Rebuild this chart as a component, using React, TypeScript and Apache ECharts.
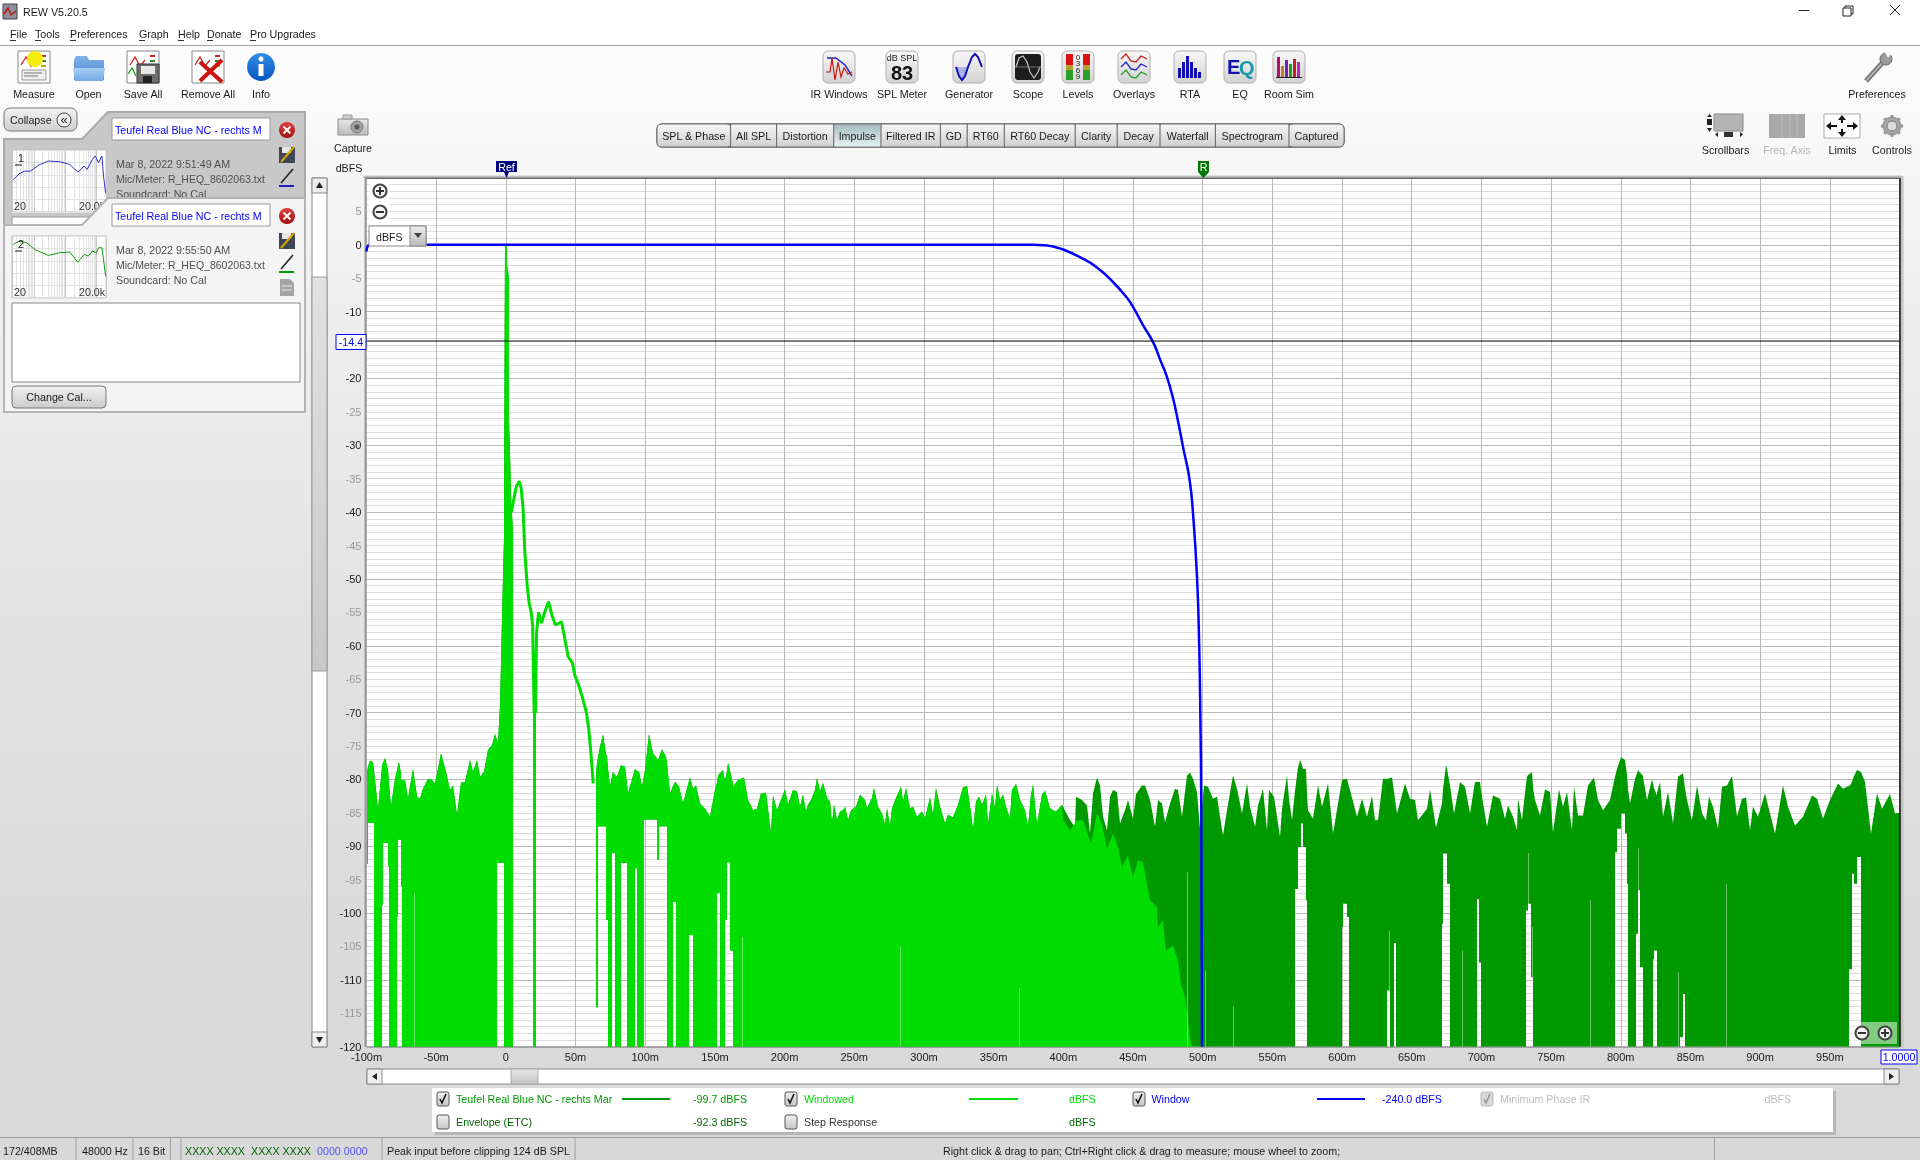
import React, { useEffect, useRef } from "react";
import * as echarts from "echarts";

// ---------- chart data (time in ms, level in dBFS) ----------
const xTicksMin = -100;
const xTicksMax = 1000;
const yMin = -120;
const yMax = 10;
const cursorLevel = -14.4;

const unwindowedTops: [number, number][] = [
  [-100,-78.9],[-97.6,-77.2],[-95.2,-77.4],[-91.6,-84.5],[-89.2,-78.1],[-86.8,-76.8],[-84.4,-78.6],[-82.1,-84.1],[-79.7,-79.9],[-76.6,-77.4],
  [-74.9,-80.1],[-72.5,-80.1],[-70.1,-82.9],[-66.5,-78.4],[-64.1,-82.6],[-61.7,-82.9],[-59.3,-81.4],[-55.7,-79.9],[-53.3,-80.1],[-51,-80.6],
  [-48.6,-78.4],[-46.2,-76.1],[-43.1,-78.9],[-40.2,-81.6],[-37.8,-80.9],[-35.4,-85.4],[-32.5,-80.5],[-29.4,-80.4],[-25.8,-77.1],[-23.4,-78.9],
  [-21,-77.1],[-18.7,-79.6],[-15.8,-78.9],[-12.7,-75.6],[-10.3,-74.9],[-7.7,-73.2],[-5.5,-74.6],[-4.3,-69],[-2,-49.6],[-1,-40],[-0.4,0],[0.9,0],
  [1,-3],[1.9,-5],[2,-23],[2.4,-26.4],[2.9,-30.9],[4,-37.6],[5.3,-43],[19.6,-61],[21.9,-61],[64.4,-79],
  [65.5,-77.6],[67.5,-75.1],[69.9,-73.3],[72.3,-76.6],[74.6,-81.1],[77,-78.9],[79.4,-79.6],[82.3,-77.9],[85.4,-78.1],[87.8,-82.1],[92.6,-78.4],
  [95.5,-78.9],[97.4,-81.1],[99.8,-78.6],[102.9,-73.2],[105.7,-76.1],[109.3,-77.1],[112.2,-75.5],[114.8,-76.6],[117.7,-82.1],[121.3,-80.4],
  [124.4,-81.1],[126.8,-83.6],[132,-79.7],[134.4,-81.4],[136.4,-80.9],[139,-83.6],[142.8,-84.4],[146.4,-85.6],[150,-81.6],[152.4,-79.4],[155.5,-78.6],
  [157,-80.4],[159.6,-77.5],[163.2,-81.1],[166.8,-80.1],[171,-79.7],[174,-83.1],[177.6,-84.6],[180.4,-84.4],[182.8,-82.1],[187,-82],[190,-88.1],
  [191.9,-82.4],[194.7,-84.6],[200.2,-81.5],[202.6,-83.8],[206.2,-81.6],[208.6,-81.8],[211,-84.1],[213.3,-82.3],[215.3,-84.8],[216.9,-83.8],[218.6,-83.1],
  [221.7,-81.6],[223.4,-79.8],[225.3,-81.8],[227.7,-80.5],[230.1,-82.8],[232.5,-83.3],[234.2,-86.6],[235.6,-83.8],[237.7,-86.1],[239.7,-84.8],[242,-84.6],
  [243.7,-84.1],[245.6,-86.1],[248,-84.6],[251.1,-84.1],[254,-82.3],[257.6,-83.1],[259.3,-84.3],[262.4,-82.8],[264.3,-81.3],[267.2,-84.1],[269.6,-85.1],
  [272,-86.8],[273.6,-84.3],[275.5,-87],[277.2,-84.3],[279.8,-82.8],[283.2,-81.1],[285.1,-83.3],[287,-81.3],[289.9,-84.3],[292.3,-84.1],[295.1,-85.6],
  [298.3,-84.8],[300.7,-85.8],[304.2,-82.7],[306.2,-85.3],[309,-81.3],[311.4,-84.1],[315,-86.6],[317.4,-85.3],[321,-85.7],[324.6,-83.8],[328.2,-81.2],
  [330.6,-81],[333.4,-85.1],[335.3,-87.6],[337.7,-83.3],[339.6,-82.6],[341.8,-83.8],[344.2,-82.3],[346.1,-86.8],[348.5,-82.1],[350.9,-84.3],[352.6,-80.8],
  [354.5,-83.1],[356.9,-82.3],[359.3,-84.6],[361.6,-85.8],[363.3,-81.6],[366,-80.7],[368.8,-83.1],[372.4,-84.6],[374.8,-87.1],[376.5,-82.3],[378.4,-80.8],
  [381.3,-86.8],[384.4,-82.3],[387.2,-81.7],[390.4,-84.3],[392.7,-84.6],[395.1,-84.8],[398.7,-83.8],[404.8,-86.1],[408.4,-87.1],[409.1,-82.6],[413.2,-83.1],
  [416.7,-83.9],[419.1,-88.1],[421.5,-82.1],[424.4,-79.7],[426.3,-80.9],[428.7,-85.6],[431.6,-87.6],[433.5,-82.6],[435.9,-81.6],[438.3,-81.9],[440.7,-86.6],
  [444.3,-84.6],[446.2,-83.1],[450.2,-85.9],[452.1,-82.2],[456.2,-80.9],[458.6,-80.9],[462.2,-83.1],[465.8,-87.1],[468.2,-83.1],[471,-83.6],[473,-86.4],
  [476.5,-83.6],[480.1,-81.4],[482.5,-81.6],[484.9,-85.6],[488.5,-79.4],[490.9,-79],[493.3,-79.9],[495.7,-81.9],[498.1,-87.4],[500.9,-80.9],[504,-81.1],
  [507.6,-82.9],[510,-82.6],[512.4,-85.6],[514.8,-88.4],[517.2,-84.6],[522,-79.4],[524.4,-81.4],[528,-85.1],[531.6,-80.6],[534,-84.1],[537.5,-87.1],
  [539.9,-83.9],[543.5,-81.4],[545.9,-87.6],[547.6,-81.6],[551.2,-82.6],[555.5,-88.6],[556.7,-84.4],[560.3,-79.4],[562.2,-82.9],[563.9,-86.1],[567.4,-79.4],
  [569.8,-77.1],[571.7,-78.4],[574.1,-78.5],[575.8,-84.6],[579.4,-85.9],[583,-80.9],[585.4,-84.1],[590.2,-80.6],[593.8,-88.1],[599.7,-80.1],[603.3,-79.9],
  [605.7,-81.6],[610.5,-85.6],[614.1,-82.9],[617.7,-85.6],[621.3,-82.5],[623.7,-86.1],[626,-86.1],[629.6,-79.9],[633.2,-79.9],[635.6,-79.7],[639.2,-85.1],
  [645.2,-80.6],[648.8,-82.9],[652.4,-83.1],[654.8,-86.1],[660.7,-84.4],[663.1,-81.5],[667.4,-87.2],[671.5,-83.6],[674.6,-77.9],[677.5,-80.9],[680.3,-85.1],
  [684.6,-80.4],[688.2,-81.1],[691.8,-85.1],[695.4,-80.4],[699,-80.4],[703.8,-87.1],[708.6,-82.4],[713.3,-82.9],[716.9,-85.9],[719.3,-83.9],[722.9,-85.6],
  [725.3,-87.6],[726.5,-82.9],[728.8,-86.1],[732.4,-79.6],[736,-78.9],[738.4,-83.1],[742,-85.4],[745.6,-81.5],[749.2,-81.9],[751.6,-87.9],[755.9,-81.5],
  [758.7,-84.1],[761.1,-81.9],[764.7,-87.6],[766.4,-81.1],[769.5,-85.4],[773.1,-85.4],[776.7,-80.9],[781,-79.7],[783.9,-83.1],[787.5,-84.6],[792.2,-83.1],
  [795.8,-79.6],[799.9,-76.7],[803,-77.1],[806.6,-83.6],[810.2,-79.9],[812.6,-78.6],[816.2,-79.6],[818.5,-83.1],[822.1,-80],[825.7,-82.4],[828.1,-80.4],
  [830.5,-85.6],[834.1,-81.9],[837.7,-86.6],[841.3,-79.6],[844.4,-79.1],[847.3,-83.1],[850.8,-86.1],[854.4,-80.9],[858,-85.1],[861.1,-86.1],[863.5,-82.6],
  [866.4,-84.1],[870,-87.4],[872.4,-81.1],[876,-80.9],[879.5,-79.5],[883.1,-85.6],[886.7,-82.9],[889.8,-82.7],[892.7,-87.6],[895.1,-84.1],[898.7,-85.6],
  [903.5,-82.1],[910.6,-88.1],[916.6,-80.9],[920.2,-84.1],[925,-86.9],[931,-85.6],[937,-82.4],[940.5,-82.9],[945.3,-85.9],[950.1,-83.1],[956.1,-80.6],
  [959.7,-81.4],[964.5,-80.9],[969.2,-78.6],[972.1,-78.9],[975.2,-80.4],[979.3,-88.1],[983.6,-82.1],[987.2,-84.4],[993.2,-82.2],[996.8,-85.1],[1000,-85],
];

const windowedTail: [number, number][] = [
  [400,-86.1],[404.8,-87.6],[409.6,-86.1],[414.4,-86.1],[419.6,-89.6],[423.9,-85.1],[427.5,-86.6],[431.6,-90.4],[435.9,-88.1],[439.5,-90.1],[441.9,-93.1],
  [446.6,-91.4],[450.2,-94.6],[453.8,-92.1],[457.4,-92.4],[462.2,-98.1],[467,-99.1],[468.2,-102.1],[471.8,-101.1],[473.4,-105.6],[478.9,-104.9],[482.5,-107.1],
  [484.2,-110.6],[487.3,-112.6],[489,-114.6],[490.9,-118.6],[492.1,-120],
];

// white gaps under the trace: [from ms, to ms, gap top dB]
const traceGaps: [number, number, number][] = [
  [-100,-98.8,-92.6],[-98.8,-94.6,-86.5],[-88.8,-88.2,-98.8],[-88.2,-84.4,-89.5],[-84.4,-83.5,-93],[-78.2,-77.2,-100.6],[-77.2,-75.5,-89],[-75.5,-74.4,-96],
  [-6.2,-1.4,-92.5],[5.3,19.6,0],[21.9,64.4,0],[64.4,66.2,-114.1],[66.2,72,-87],[72,73.2,-101],[76.3,78.5,-91],[82.3,87,-92.5],[93,94.4,-93.3],
  [99,108.5,-86],[108.5,110,-92],[110,115.3,-87],[120,121.8,-98.3],[131.3,134.4,-103.3],[151.2,153.6,-97],[157.2,158.4,-101],[158.4,160.8,-92.4],[160.8,162.7,-105.6],
  [566.2,568.6,-96.4],[568.6,570.3,-90.1],[570.3,572.2,-86.6],[572.2,573.9,-90.1],[573.9,575.1,-98.1],
  [599.7,601,-102.1],[601,603.3,-98.6],[603.3,605,-100.6],[632.5,634.4,-111.6],[637,638.5,-104.5],
  [671.5,672.7,-101.6],[672.7,675.1,-91.1],[675.1,677.5,-95.6],[697.1,698.5,-97.9],[698.5,699.9,-107.4],
  [731.8,733.7,-99.6],[733.7,735.3,-98.6],[735.3,737.3,-109.6],
  [795.8,797.5,-90.9],[797.5,799.9,-87.4],[799.9,803,-85.1],[803,804.2,-88.1],[804.2,805.4,-95.6],
  [810.9,812.6,-103.1],[812.6,814,-96.6],[814,815.7,-108.1],[822.9,824.1,-106.9],[824.1,826.2,-105.6],[842.7,844.4,-118.6],[844.4,846,-112.1],
  [964,965.7,-108.4],[965.7,967.4,-94.1],[967.4,969.3,-95.6],[969.3,972.1,-91.6],
];

// hairline pale gaps: [ms, gap top dB]
const paleGaps: [number, number][] = [
  [-65.9,-97],[169.5,-103.6],[283,-105],[368.3,-111.2],[488.5,-93.9],[501.7,-108.6],[521.5,-113.9],[633.5,-102.6],[686.3,-105.6],
  [733.4,-91],[736.5,-102],[777.9,-98.1],[812.6,-90.3],[840.8,-108.9],[875.5,-95.6],
];

// the narrow trace between the impulse and the noise floor
const decayTrace: [number, number][] = [
  [4,-40],[5.7,-38.1],[7.6,-36.1],[9.6,-35.4],[11,-36.4],[12.4,-39.6],[13.6,-46],[15.3,-51],[16.7,-53.6],[18.2,-55],[19.2,-57],[19.6,-61.6],[20.3,-70],
  [21.3,-70],[22,-58],[23.5,-55],[25.6,-56.6],[28,-54.9],[30.6,-53.4],[33.3,-55.6],[35.6,-56.9],[40,-56.4],[42.3,-59],[44.7,-61.6],[47.8,-62.6],[49.5,-64.4],
  [52.6,-66.1],[55.4,-68.1],[57.8,-70],[59.5,-72.5],[61,-76],[62.7,-80.6],
];

const windowCurve: [number, number][] = [
  [-100,-1],[-97.5,0],[378,0],[386,-0.05],[393,-0.3],[400,-0.7],[411.9,-1.85],[423.9,-3.35],[435.8,-5.6],[445.4,-7.85],[450.2,-9.35],[457.4,-12.1],[464.5,-14.6],
  [469.3,-17.1],[474.1,-19.6],[478.9,-23.1],[482.5,-26.6],[486,-30.35],[490.5,-35],[493,-40],[496,-50],[497.5,-60],[498.3,-70],[499,-85],[499.5,-120],
];

// thumbnails: [Hz, position in %]
const thumb1Curve: [number, number][] = [
  [22,52.4],[35,62.2],[50,65.9],[78,65.9],[143,75.7],[288,82.2],[652,81.1],[1390,76.8],[2540,64.3],[4020,74],[4970,68.6],[7360,84.9],[9100,90.3],[11600,79.5],[14800,90.3],[16700,57.8],[19400,30.8],
];
const thumb2Curve: [number, number][] = [
  [22,86.5],[35,91.9],[58,89.2],[106,78.4],[288,68.6],[652,73],[1390,74],[2540,57.8],[4020,70.3],[5430,67.6],[7360,75.7],[9960,73],[11600,81.1],[14800,81.1],[16700,62.2],[19400,35.1],
];

const menuItems = ["File","Tools","Preferences","Graph","Help","Donate","Pro Upgrades"];
const tabNames = ["SPL & Phase","All SPL","Distortion","Impulse","Filtered IR","GD","RT60","RT60 Decay","Clarity","Decay","Waterfall","Spectrogram","Captured"];
const measurementName = "Teufel Real Blue NC - rechts M";

// ---------- colours / layout ----------
const DARK = "#009900";
const LIGHT = "#00DD00";
const BLUE = "#0000FF";
const FONT = '"Liberation Sans"';
const GL = 366.5, GR = 1899.5, GT = 178, GB = 1046.7;

const gapEdges = traceGaps.flatMap((g) => [g[0], g[1]]);

function bandRenderer(tops: [number, number][], color: string) {
  return (params: any, api: any) => {
    const i = params.dataIndex;
    if (i >= tops.length - 1) return undefined;
    const [t0, v0] = tops[i];
    const [t1, v1] = tops[i + 1];
    const edges = [t0, ...gapEdges.filter((e) => e > t0 && e < t1).sort((a, b) => a - b), t1];
    const children: any[] = [];
    const at = (t: number) => v0 + ((v1 - v0) * (t - t0)) / (t1 - t0);
    for (let k = 0; k < edges.length - 1; k++) {
      const a = edges[k], b = edges[k + 1], mid = (a + b) / 2;
      const gap = traceGaps.find((g) => mid >= g[0] && mid < g[1]);
      const low = gap ? gap[2] : yMin;
      const xa = Math.round(api.coord([a, low])[0]);
      const xb = Math.round(api.coord([b, low])[0]);
      const yLow = api.coord([a, low])[1];
      const ya = Math.min(api.coord([a, at(a)])[1], yLow);
      const yb = Math.min(api.coord([b, at(b)])[1], yLow);
      if (xb <= xa || (ya >= yLow && yb >= yLow)) continue;
      children.push({ type: "polygon", shape: { points: [[xa, ya], [xb, yb], [xb, yLow], [xa, yLow]] }, style: { fill: color } });
    }
    return { type: "group", children };
  };
}

const paleRenderer = (_: any, api: any) => {
  const t = api.value(0), v = api.value(1);
  const x = Math.round(api.coord([t, v])[0]);
  const yTop = api.coord([t, v])[1], yBot = api.coord([t, yMin])[1];
  return { type: "rect", shape: { x, y: yTop, width: 1, height: yBot - yTop }, style: { fill: "rgba(255,255,255,0.4)" } };
};

// ---------- window chrome drawn with graphic elements ----------
function buildChrome() {
  const G: any[] = [];
  const grad = (stops: string[]) =>
    new echarts.graphic.LinearGradient(0, 0, 0, 1, stops.map((c, i) => ({ offset: i / (stops.length - 1), color: c })));
  const R = (x: number, y: number, w: number, h: number, fill: any, o: any = {}) =>
    G.push({ type: "rect", silent: true, z: o.z ?? 3, shape: { x, y, width: w, height: h, r: o.r ?? 0 }, style: { fill, stroke: o.stroke ?? null, lineWidth: o.lw ?? 1, opacity: o.op ?? 1 } });
  const T = (text: string, x: number, y: number, o: any = {}) =>
    G.push({ type: "text", silent: true, z: o.z ?? 3, x, y, style: { text, fill: o.fill ?? "#1a1a1a", font: `${o.weight ?? "normal"} ${o.size ?? 10.7}px ${o.family ?? FONT}`, align: o.align ?? "left", verticalAlign: "middle" } });
  const L = (x1: number, y1: number, x2: number, y2: number, stroke: string, o: any = {}) =>
    G.push({ type: "line", silent: true, z: o.z ?? 3, shape: { x1, y1, x2, y2 }, style: { stroke, lineWidth: o.lw ?? 1 } });
  const C = (cx: number, cy: number, r: number, fill: any, o: any = {}) =>
    G.push({ type: "circle", silent: true, z: o.z ?? 3, shape: { cx, cy, r }, style: { fill, stroke: o.stroke ?? null, lineWidth: o.lw ?? 1 } });
  const PL = (points: number[][], stroke: string, o: any = {}) =>
    G.push({ type: "polyline", silent: true, z: o.z ?? 3, shape: { points }, style: { stroke, lineWidth: o.lw ?? 1, fill: null } });
  const PG = (points: number[][], fill: any, o: any = {}) =>
    G.push({ type: "polygon", silent: true, z: o.z ?? 3, shape: { points }, style: { fill, stroke: o.stroke ?? null, lineWidth: o.lw ?? 1 } });

  // backgrounds
  R(0, 46, 1920, 1114, grad(["#fdfdfd", "#eeeeee", "#e3e3e3", "#dcdcdc", "#d8d8d8"]), { z: -10 });
  R(0, 0, 1920, 46, "#ffffff", { z: -9 });
  L(0, 45.5, 1920, 45.5, "#a5a5a5", { z: -8 });

  // title bar
  R(3, 4, 14, 15, "#8a8f98", { stroke: "#444" });
  PL([[4, 14], [8, 8], [11, 15], [16, 11]], "#c01010", { lw: 1.4 });
  T("REW V5.20.5", 23, 12);
  L(1799, 10.5, 1809, 10.5, "#222");
  R(1845, 6, 8, 8, "#fff", { stroke: "#222" });
  R(1843, 8, 8, 8, "#fff", { stroke: "#222" });
  L(1890, 5, 1900, 15, "#222");
  L(1900, 5, 1890, 15, "#222");

  // menu
  const menuX = [10, 35, 70, 139, 178, 207, 250];
  menuItems.forEach((m, i) => {
    T(m, menuX[i], 34);
    L(menuX[i], 40.5, menuX[i] + 6, 40.5, "#333");
  });

  // left toolbar
  const doc = (x: number, y: number) => {
    R(x, y, 32, 32, "#ffffff", { stroke: "#888" });
    PL([[x + 3, y + 14], [x + 8, y + 6], [x + 13, y + 15], [x + 18, y + 9]], "#d02020", { lw: 1.3 });
    R(x + 23, y + 4, 5, 2, "#d02020");
    R(x + 23, y + 9, 5, 2, "#2a8a2a");
    R(x + 23, y + 14, 5, 2, "#c0a000");
  };
  doc(18, 51);
  R(22, 70, 24, 10, "#eeeeee", { stroke: "#999" });
  L(24, 73, 42, 73, "#777"); L(24, 76, 38, 76, "#777");
  C(35, 59, 8, "#f5ec10");
  T("Measure", 34, 94, { align: "center" });

  PG([[74, 60], [76, 56], [87, 56], [89, 60], [104, 60], [104, 80], [74, 80]], grad(["#7fb1e8", "#4b87cf"]));
  PG([[73, 68], [105, 68], [103, 81], [75, 81]], grad(["#a7cdf2", "#72abe8"]));
  T("Open", 88.5, 94, { align: "center" });

  doc(127, 51);
  R(137, 64, 22, 19, "#6e6e6e", { stroke: "#333" });
  R(141, 66, 14, 8, "#e8e8e8");
  R(143, 76, 9, 7, "#222");
  PL([[128, 74], [132, 68], [136, 76]], "#11aa11", { lw: 1.3 });
  T("Save All", 143, 94, { align: "center" });

  doc(192, 51);
  PL([[200, 81], [222, 60]], "#cc1111", { lw: 4 });
  PL([[200, 62], [222, 82]], "#cc1111", { lw: 4 });
  T("Remove All", 208, 94, { align: "center" });

  C(261, 67, 14, grad(["#2e8ee6", "#0a55c0"]));
  C(261, 59, 2.6, "#fff");
  R(258.5, 64, 5, 12, "#fff");
  T("Info", 261, 94, { align: "center" });

  // measurement panels
  R(4, 108, 73, 23, grad(["#f2f2f2", "#cfcfcf"]), { r: 6, stroke: "#777" });
  T("Collapse", 10, 120);
  C(64, 120, 7, "#f0f0f0", { stroke: "#444" });
  T("«", 64, 119, { align: "center", size: 13 });

  PG([[108, 112], [305, 112], [305, 240], [4, 240], [4, 139], [82, 139]], "#c8c8c8", { z: -5, stroke: "#aaaaaa", lw: 2 });
  R(12, 217, 80, 10, "#ffffff", { stroke: "#999", z: -4 });
  R(112, 118, 158, 22, "#ffffff", { stroke: "#999", z: 1 });
  T(measurementName, 115, 130, { fill: BLUE, z: 1 });
  T("Mar 8, 2022 9:51:49 AM", 116, 164, { fill: "#4f4f4f", z: 1 });
  T("Mic/Meter: R_HEQ_8602063.txt", 116, 179, { fill: "#4f4f4f", z: 1, size: 10.5 });
  T("Soundcard: No Cal", 116, 194, { fill: "#4f4f4f", z: 1 });
  T("1", 18, 158, { z: 4 });
  L(15, 165, 22, 165, "#111", { z: 4 });
  T("20", 14, 206, { fill: "#333", z: 4 });
  T("20.0k", 79, 206, { fill: "#333", z: 4 });

  const sideIcons = (yClose: number, ySave: number, yPen: number, yDoc: number, col: string, z: number) => {
    C(287, yClose, 8, grad(["#e04040", "#a01010"]), { z });
    L(283.5, yClose - 3.5, 290.5, yClose + 3.5, "#fff", { lw: 2, z });
    L(290.5, yClose - 3.5, 283.5, yClose + 3.5, "#fff", { lw: 2, z });
    R(279, ySave - 8, 16, 16, "#3c4656", { z });
    R(282, ySave - 8, 9, 6, "#e6e6e6", { z });
    L(281, ySave + 7, 294, ySave - 8, "#d9a400", { lw: 2, z });
    L(281, yPen + 6, 293, yPen - 8, "#222", { lw: 1.6, z });
    L(279, yPen + 9, 294, yPen + 9, col, { lw: 2, z });
    if (yDoc) {
      PG([[280, yDoc - 9], [290, yDoc - 9], [294, yDoc - 5], [294, yDoc + 8], [280, yDoc + 8]], "#a4a4a4", { z });
      L(282, yDoc - 2, 292, yDoc - 2, "#e8e8e8", { z });
      L(282, yDoc + 2, 292, yDoc + 2, "#e8e8e8", { z });
    }
  };
  sideIcons(130, 155, 177, 0, "#2020d0", 1);

  PG([[108, 198], [305, 198], [305, 412], [4, 412], [4, 225], [82, 225]], "#f4f4f4", { z: 5, stroke: "#b4b4b4", lw: 2 });
  R(112, 204, 158, 22, "#ffffff", { stroke: "#999", z: 7 });
  T(measurementName, 115, 216, { fill: BLUE, z: 7 });
  T("Mar 8, 2022 9:55:50 AM", 116, 250, { fill: "#4f4f4f", z: 7 });
  T("Mic/Meter: R_HEQ_8602063.txt", 116, 265, { fill: "#4f4f4f", z: 7, size: 10.5 });
  T("Soundcard: No Cal", 116, 280, { fill: "#4f4f4f", z: 7 });
  T("2", 18, 244, { z: 8 });
  L(15, 251, 22, 251, "#111", { z: 8 });
  T("20", 14, 292, { fill: "#333", z: 8 });
  T("20.0k", 79, 292, { fill: "#333", z: 8 });
  sideIcons(216, 241, 263, 288, "#009900", 7);
  R(12, 303, 288, 79, "#ffffff", { stroke: "#888", z: 7 });
  R(12, 386, 94, 22, grad(["#f0f0f0", "#cccccc"]), { r: 4, stroke: "#777", z: 7 });
  T("Change Cal...", 59, 397, { align: "center", z: 7 });

  // vertical scroll bar
  R(312, 178, 15, 869, "#ffffff", { stroke: "#888" });
  R(312, 277, 15, 394, grad(["#e2e2e2", "#c8c8c8"]), { stroke: "#9a9a9a" });
  R(312, 178, 15, 15, "#eeeeee", { stroke: "#888" });
  R(312, 1032, 15, 15, "#eeeeee", { stroke: "#888" });
  PG([[319.5, 182], [323, 188], [316, 188]], "#222");
  PG([[319.5, 1043], [323, 1037], [316, 1037]], "#222");

  // capture + axis caption
  R(338, 119, 30, 16, grad(["#e6e6e6", "#bdbdbd"]), { stroke: "#8a8a8a" });
  R(343, 115, 9, 4, "#cfcfcf", { stroke: "#999" });
  C(357, 127, 6, "#a0a0a0", { stroke: "#777" });
  C(357, 127, 2.5, "#555");
  T("Capture", 353, 148, { align: "center" });
  T("dBFS", 349, 168, { align: "center" });

  // top-centre tool buttons
  const btn = (x: number, label: string) => {
    R(x, 51, 32, 32, grad(["#f8f8f8", "#d2d2d2"]), { r: 5, stroke: "#b0b0b0" });
    T(label, x + 16, 94, { align: "center" });
  };
  btn(823, "IR Windows");
  PL([[827, 58], [836, 58], [845, 65], [852, 76]], "#2222bb", { lw: 1.4 });
  PL([[826, 72], [830, 72], [832, 58], [835, 80], [838, 62], [841, 77], [844, 68], [848, 74], [852, 72]], "#cc1111", { lw: 1.2 });
  btn(886, "SPL Meter");
  T("dB SPL", 902, 58, { align: "center", size: 9, fill: "#222" });
  T("83", 902, 73, { align: "center", size: 20, weight: "bold", fill: "#111" });
  btn(953, "Generator");
  PG([[956, 67], [962, 80], [968, 67]], "#aab3e8");
  PL([[956, 67], [959, 76], [962, 80], [965, 76], [968, 67], [972, 57], [975, 54], [978, 57], [982, 67]], "#1010b0", { lw: 2 });
  btn(1012, "Scope");
  R(1015, 54, 26, 26, "#1d1d1d", { r: 3 });
  PL([[1016, 67], [1019, 58], [1023, 56], [1027, 62], [1030, 72], [1034, 78], [1038, 72], [1040, 67]], "#c8c8c8", { lw: 1.2 });
  L(1015, 67, 1041, 67, "#777");
  btn(1062, "Levels");
  R(1066, 54, 7, 26, "#2aa02a"); R(1066, 54, 7, 11, "#dd1111"); R(1066, 65, 7, 5, "#b8a030");
  R(1083, 54, 7, 26, "#2aa02a"); R(1083, 54, 7, 11, "#dd1111"); R(1083, 65, 7, 5, "#b8a030");
  T("0", 1078, 57, { align: "center", size: 8 }); T("3", 1078, 63, { align: "center", size: 8 });
  T("6", 1078, 70, { align: "center", size: 8 }); T("9", 1078, 76, { align: "center", size: 8 });
  btn(1118, "Overlays");
  const wave = [[1121, 0], [1126, -5], [1131, 2], [1136, 3], [1141, -3], [1147, 0]];
  [[59, "#cc2222"], [67, "#2222cc"], [75, "#22a022"]].forEach(([y, c]: any) =>
    PL(wave.map(([x, d]) => [x, y + d]), c, { lw: 1.3 }));
  btn(1174, "RTA");
  [[1178, 68], [1182, 62], [1186, 56], [1190, 62], [1194, 68], [1198, 72]].forEach(([x, y]) => R(x, y, 3, 78 - y, "#1010b0"));
  btn(1224, "EQ");
  T("E", 1227, 67, { size: 20, weight: "bold", fill: "#1010b0" });
  T("Q", 1239, 68, { size: 20, weight: "bold", fill: "#1899a8" });
  btn(1273, "Room Sim");
  [[1277, 57, "#b01070"], [1281, 66, "#c08020"], [1285, 60, "#7020c0"], [1289, 64, "#20a020"], [1293, 59, "#c02020"], [1297, 62, "#c020c0"]].forEach(([x, y, c]: any) => R(x, y, 3, 77 - y, c));
  L(1276, 77.5, 1302, 77.5, "#222");

  // preferences
  L(1866, 81, 1884, 61, "#777", { lw: 5 });
  L(1866, 81, 1884, 61, "#bdbdbd", { lw: 1.5 });
  C(1886, 59, 6, "#9a9a9a", { stroke: "#666" });
  PG([[1884, 51], [1892, 53], [1888, 58]], "#f4f4f4");
  T("Preferences", 1877, 94, { align: "center" });

  // tabs
  const edges = [657, 730.6, 776.6, 833.7, 881, 940.4, 967.2, 1004.3, 1075.2, 1117.2, 1160, 1215.4, 1289, 1344];
  R(657, 124, 687, 23, "#cccccc", { r: 5, stroke: "#555", lw: 1.5 });
  tabNames.forEach((n, i) => {
    const sel = n === "Impulse";
    R(edges[i] + 0.5, 124.5, edges[i + 1] - edges[i] - 1, 22, sel ? grad(["#a9bcbc", "#e3f3f3"]) : grad(["#f6f6f6", "#d0d0d0"]), { r: i === 0 || i === 12 ? 4 : 0 });
    if (i > 0) L(edges[i], 124, edges[i], 147, "#666");
    T(n, (edges[i] + edges[i + 1]) / 2, 136, { align: "center" });
  });

  // right tools
  R(1714, 114, 29, 17, "#b4b4b4", { stroke: "#8a8a8a" });
  R(1707, 119, 5, 6, "#222");
  PG([[1709.5, 114], [1712, 117], [1707, 117]], "#222");
  PG([[1709.5, 132], [1712, 128], [1707, 128]], "#222");
  R(1724, 132, 9, 5, "#333");
  PG([[1718, 132], [1718, 137], [1715, 134.5]], "#222");
  PG([[1740, 132], [1740, 137], [1743, 134.5]], "#222");
  T("Scrollbars", 1725.5, 150, { align: "center" });
  R(1769, 114, 36, 24, "#a8a8a8");
  [1782, 1790, 1797].forEach((x) => L(x, 114, x, 138, "#bcbcbc"));
  T("Freq. Axis", 1787, 150, { align: "center", fill: "#b5b5b5" });
  R(1824, 114, 36, 24, "#ffffff", { stroke: "#aaaaaa" });
  L(1829, 126, 1837, 126, "#111", { lw: 2 }); L(1847, 126, 1855, 126, "#111", { lw: 2 });
  L(1842, 117, 1842, 123, "#111", { lw: 2 }); L(1842, 129, 1842, 135, "#111", { lw: 2 });
  PG([[1826, 126], [1831, 122], [1831, 130]], "#111"); PG([[1858, 126], [1853, 122], [1853, 130]], "#111");
  PG([[1842, 115], [1838, 120], [1846, 120]], "#111"); PG([[1842, 137], [1838, 132], [1846, 132]], "#111");
  T("Limits", 1842.5, 150, { align: "center" });
  [[1892, 115, 1892, 137], [1881, 126, 1903, 126], [1884.2, 118.2, 1899.8, 133.8], [1899.8, 118.2, 1884.2, 133.8]].forEach(([a, b, c, d]) => L(a, b, c, d, "#9a9a9a", { lw: 3 }));
  C(1892, 126, 9, "#a6a6a6", { stroke: "#8a8a8a" });
  C(1892, 126, 5, "#dcdcdc", { stroke: "#777" });
  T("Controls", 1892, 150, { align: "center" });

  // plot frame
  R(GL - 3, GT - 3, GR - GL + 5, 3, grad(["#eeeeee", "#8c8c8c"]), { z: 1 });
  R(GL - 2, GT, 2, GB - GT, "#9a9a9a", { z: 1 });
  L(GL, GB + 0.5, GR, GB + 0.5, "#8a8a8a", { z: 1 });
  R(GR + 1, GT - 2, 3, GB - GT + 3, "#c4c4c4", { z: 1 });
  L(GR + 0.5, GT, GR + 0.5, GB, "#111", { lw: 1.5, z: 11 });
  L(GL, GT + 0.5, GR, GT + 0.5, "#666", { z: 11 });

  // markers
  PG([[496, 161], [517, 161], [517, 172], [509, 172], [506.5, 178], [504, 172], [496, 172]], "#000080", { z: 12 });
  T("Ref", 506.5, 167, { align: "center", fill: "#fff", z: 13 });
  PG([[1198, 161], [1209, 161], [1209, 172], [1203.5, 178], [1198, 172]], "#007700", { z: 12 });
  T("R", 1203.5, 167, { align: "center", fill: "#fff", z: 13 });

  // plot overlay controls
  const zoomBtn = (cx: number, cy: number, plus: boolean, z: number) => {
    C(cx, cy, 6.5, "#f4f4f4", { stroke: "#444", lw: 2, z });
    L(cx - 4, cy, cx + 4, cy, "#333", { lw: 2, z });
    if (plus) L(cx, cy - 4, cx, cy + 4, "#333", { lw: 2, z });
  };
  R(369, 181, 20, 42, "#ffffff", { z: 10 });
  zoomBtn(380, 191, true, 11);
  zoomBtn(380, 212, false, 11);
  R(369, 226, 57, 20, "#ffffff", { stroke: "#888", z: 11 });
  R(410, 226, 16, 20, grad(["#eeeeee", "#bbbbbb"]), { stroke: "#888", z: 11 });
  PG([[414, 233], [422, 233], [418, 238]], "#444", { z: 12 });
  T("dBFS", 376, 237, { z: 12 });
  R(336, 334.5, 30, 15, "#ffffff", { stroke: BLUE, z: 11 });
  T("-14.4", 351, 342, { align: "center", fill: BLUE, z: 12 });
  R(1850, 1022, 47, 22, "rgba(255,255,255,0.5)", { z: 11 });
  zoomBtn(1862, 1033, false, 12);
  zoomBtn(1885, 1033, true, 12);
  R(1881, 1050, 36, 14, "#ffffff", { stroke: BLUE, z: 11 });
  T("1.0000", 1899, 1057, { align: "center", fill: BLUE, z: 12 });

  // horizontal scroll bar
  R(367, 1069, 1532, 15, "#ffffff", { stroke: "#888" });
  R(367, 1069, 15, 15, "#eeeeee", { stroke: "#888" });
  R(1884, 1069, 15, 15, "#eeeeee", { stroke: "#888" });
  R(511, 1069, 27, 15, grad(["#e8e8e8", "#c4c4c4"]), { stroke: "#aaa" });
  PG([[372, 1076.5], [377, 1073], [377, 1080]], "#222");
  PG([[1894, 1076.5], [1889, 1073], [1889, 1080]], "#222");

  // legend
  R(435, 1091, 1401, 44, "#a8a8a8", { op: 0.7 });
  R(432, 1088, 1401, 44, "#ffffff");
  const check = (x: number, y: number, on: boolean, disabled = false) => {
    R(x - 6, y - 7, 12, 14, disabled ? "#d8d8d8" : grad(["#eeeeee", "#c8c8c8"]), { r: 2, stroke: disabled ? "#bbb" : "#555" });
    if (on) PL([[x - 3, y], [x - 1, y + 4], [x + 3, y - 5]], disabled ? "#999" : "#111", { lw: 1.6 });
  };
  check(443, 1099, true);
  T("Teufel Real Blue NC - rechts Mar", 456, 1099, { fill: DARK });
  L(622, 1099, 670, 1099, DARK, { lw: 2 });
  T("-99.7 dBFS", 693, 1099, { fill: DARK });
  check(791, 1099, true);
  T("Windowed", 804, 1099, { fill: LIGHT });
  L(969, 1099, 1018, 1099, LIGHT, { lw: 2 });
  T("dBFS", 1069, 1099, { fill: LIGHT });
  check(1139, 1099, true);
  T("Window", 1151.5, 1099, { fill: BLUE });
  L(1317, 1099, 1365, 1099, BLUE, { lw: 2 });
  T("-240.0 dBFS", 1382, 1099, { fill: BLUE });
  check(1487, 1099, true, true);
  T("Minimum Phase IR", 1500, 1099, { fill: "#bdbdbd" });
  T("dBFS", 1764.5, 1099, { fill: "#bdbdbd" });
  check(443, 1122, false);
  T("Envelope (ETC)", 456, 1122, { fill: "#006600" });
  T("-92.3 dBFS", 693, 1122, { fill: "#006600" });
  check(791, 1122, false);
  T("Step Response", 804, 1122, { fill: "#333" });
  T("dBFS", 1069, 1122, { fill: "#006600" });

  // status bar
  L(0, 1137.5, 1920, 1137.5, "#9a9a9a");
  [76, 133, 170.5, 181, 382, 575, 1714.5].forEach((x) => L(x, 1138, x, 1160, "#a0a0a0"));
  T("172/408MB", 3, 1151);
  T("48000 Hz", 82, 1151);
  T("16 Bit", 138, 1151);
  T("XXXX XXXX", 185, 1151, { fill: "#006600" });
  T("XXXX XXXX", 251, 1151, { fill: "#006600" });
  T("0000 0000", 317, 1151, { fill: "#5555ee" });
  T("Peak input before clipping 124 dB SPL", 387, 1151);
  T("Right click & drag to pan; Ctrl+Right click & drag to measure; mouse wheel to zoom;", 943, 1151);
  return G;
}

function thumbGrid(id: number, top: number, z: number) {
  return {
    grid: { left: 12, top, width: 94, height: 62, show: true, backgroundColor: "#ffffff", borderColor: "#bbbbbb", borderWidth: 1, z },
    xAxis: {
      gridIndex: id, type: "log", min: 20, max: 20000, z,
      axisLine: { show: false }, axisTick: { show: false }, axisLabel: { show: false },
      splitLine: { show: true, lineStyle: { color: "#c8c8c8" } },
      minorTick: { show: false, splitNumber: 10 },
      minorSplitLine: { show: true, lineStyle: { color: "#e2e2e2" } },
    },
    yAxis: {
      gridIndex: id, type: "value", min: 0, max: 100, interval: 20, z,
      axisLine: { show: false }, axisTick: { show: false }, axisLabel: { show: false },
      splitLine: { show: true, lineStyle: { color: "#e2e2e2" } },
    },
  };
}

export default function App() {
  const ref = useRef<HTMLDivElement | null>(null);
  useEffect(() => {
    document.body.style.margin = "0";
    const chart = echarts.init(ref.current!, undefined, { renderer: "svg" });
    const windowedTops: [number, number][] = [...unwindowedTops.filter((p) => p[0] < 400), ...windowedTail];
    const t1 = thumbGrid(1, 150, 1);
    const t2 = thumbGrid(2, 236, 6);
    chart.setOption({
      animation: false,
      textStyle: { fontFamily: FONT },
      graphic: { elements: buildChrome() },
      grid: [
        { left: GL, right: 1920 - GR, top: GT, bottom: 1160 - GB, show: true, backgroundColor: "#ffffff", borderWidth: 0 },
        t1.grid,
        t2.grid,
      ],
      xAxis: [
        {
          type: "value", min: xTicksMin, max: xTicksMax, interval: 50,
          axisLine: { show: false }, axisTick: { show: false },
          axisLabel: {
            margin: 5, fontSize: 11, color: "#1a1a1a", fontFamily: FONT, showMaxLabel: false,
            formatter: (v: number) => (v === 0 ? "0" : v >= 1000 ? "" : `${v}m`),
          },
          splitLine: { show: true, lineStyle: { color: "#b9b9b9", width: 1 } },
        },
        t1.xAxis,
        t2.xAxis,
      ],
      yAxis: [
        {
          type: "value", min: yMin, max: yMax, interval: 5,
          axisLine: { show: false }, axisTick: { show: false },
          axisLabel: {
            margin: 5, fontSize: 11, fontFamily: FONT,
            color: (v: any) => (Number(v) % 10 === 0 ? "#1a1a1a" : "#999999"),
            // the -15 label sits behind the cursor's -14.4 box in the reference
            formatter: (v: number) => (v === yMax || v === -15 ? "" : String(v)),
          },
          splitLine: { show: true, lineStyle: { color: ["#b9b9b9", "#dcdcdc"], width: 1 } },
          minorTick: { show: false, splitNumber: 5 },
          minorSplitLine: { show: true, lineStyle: { color: "#dcdcdc", width: 1 } },
        },
        t1.yAxis,
        t2.yAxis,
      ],
      series: [
        { name: "Teufel Real Blue NC - rechts Mar", type: "custom", silent: true, clip: true, z: 2, encode: { x: 0, y: 1 }, data: unwindowedTops, renderItem: bandRenderer(unwindowedTops, DARK) },
        { name: "Windowed", type: "custom", silent: true, clip: true, z: 3, encode: { x: 0, y: 1 }, data: windowedTops, renderItem: bandRenderer(windowedTops, LIGHT) },
        { name: "Windowed decay", type: "line", silent: true, z: 3, showSymbol: false, data: decayTrace, lineStyle: { color: LIGHT, width: 3 } },
        { name: "Pale", type: "custom", silent: true, clip: true, z: 4, encode: { x: 0, y: 1 }, data: paleGaps, renderItem: paleRenderer },
        { name: "Window", type: "line", silent: true, z: 5, showSymbol: false, smooth: 0.5, data: windowCurve, lineStyle: { color: BLUE, width: 2.5 } },
        { name: "Cursor", type: "line", silent: true, z: 6, showSymbol: false, data: [[xTicksMin, cursorLevel], [xTicksMax, cursorLevel]], lineStyle: { color: "#000000", width: 1 } },
        { name: "Thumb 1", type: "line", silent: true, z: 2, xAxisIndex: 1, yAxisIndex: 1, showSymbol: false, data: thumb1Curve, lineStyle: { color: "#3030d0", width: 1 } },
        { name: "Thumb 2", type: "line", silent: true, z: 6, xAxisIndex: 2, yAxisIndex: 2, showSymbol: false, data: thumb2Curve, lineStyle: { color: "#109a10", width: 1 } },
      ],
    });
    return () => chart.dispose();
  }, []);
  return <div ref={ref} style={{ position: "fixed", left: 0, top: 0, width: 1920, height: 1160 }} />;
}
